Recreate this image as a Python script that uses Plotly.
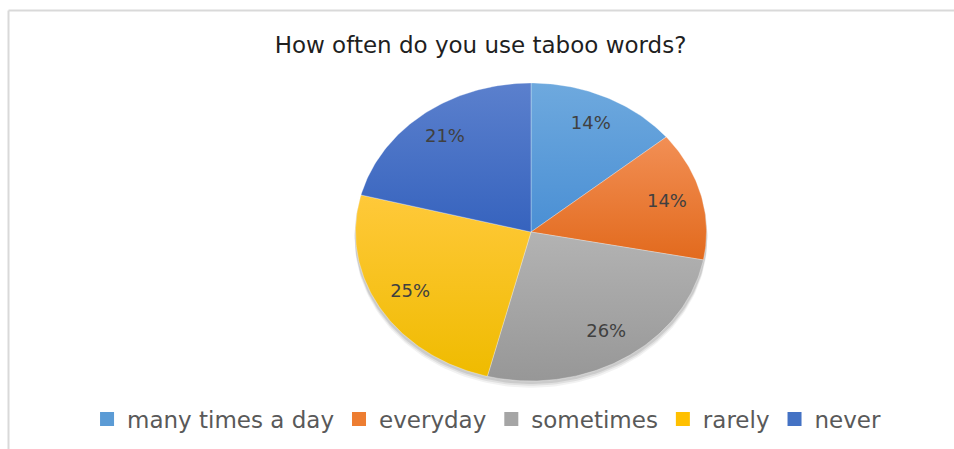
import numpy as np
import plotly.graph_objects as go

# Survey answers to "How often do you use taboo words?"
categories = ["many times a day", "everyday", "sometimes", "rarely", "never"]
shares = [14, 14, 26, 25, 21]

# Two-stop vertical gradients (bottom, top) per slice, Office-style palette
grad_bottom = ["#4a8fd4", "#e26a1d", "#979797", "#efbb00", "#3663be"]
grad_top = ["#6ea9de", "#f28f55", "#b3b3b3", "#ffc93a", "#5b80cd"]
legend_swatch = ["#5b9bd5", "#ed7d31", "#a5a5a5", "#ffc000", "#4472c4"]

W, H = 954, 449
CX, CY = 531.0, 232.0     # pie centre in pixels
RX, RY = 175.5, 149.0     # horizontal / vertical radii in pixels

# Axis ranges so that a unit circle in data space lands on the ellipse
x_range = [-CX / RX, (W - CX) / RX]
y_range = [-(H - CY) / RY, CY / RY]

fig = go.Figure()

# soft drop shadow under the pie
t = np.linspace(0, 2 * np.pi, 240)
for off, alpha in [(0.045, 0.05), (0.032, 0.07), (0.02, 0.09)]:
    fig.add_trace(go.Scatter(
        x=np.sin(t) * 1.005, y=np.cos(t) * 1.0 - off,
        mode="lines", fill="toself", line=dict(width=0),
        fillcolor=f"rgba(0,0,0,{alpha})", hoverinfo="skip", showlegend=False,
    ))

total = float(sum(shares))
start = 0.0
label_x, label_y, label_txt = [], [], []
for name, v, c0, c1 in zip(categories, shares, grad_bottom, grad_top):
    sweep = 2 * np.pi * v / total
    a = np.linspace(start, start + sweep, max(int(v * 4), 12))
    xs = np.concatenate([[0.0], np.sin(a), [0.0]])
    ys = np.concatenate([[0.0], np.cos(a), [0.0]])
    fig.add_trace(go.Scatter(
        x=xs, y=ys, mode="lines", fill="toself",
        line=dict(width=0.6, color="rgba(255,255,255,0.5)"),
        fillgradient=dict(type="vertical", colorscale=[[0, c0], [1, c1]]),
        name=name, hoverinfo="name", showlegend=False,
    ))
    mid = start + sweep / 2
    label_x.append(0.8 * np.sin(mid))
    label_y.append(0.8 * np.cos(mid))
    label_txt.append(f"{round(100 * v / total)}%")
    start += sweep

# percentage labels
fig.add_trace(go.Scatter(
    x=label_x, y=label_y, mode="text", text=label_txt,
    textfont=dict(family="DejaVu Sans", size=18, color="#404040"),
    hoverinfo="skip", showlegend=False,
))

# legend entries with square swatches
for name, col in zip(categories, legend_swatch):
    fig.add_trace(go.Scatter(
        x=[None], y=[None], mode="markers", name=name,
        marker=dict(symbol="square", size=14, color=col),
    ))

fig.update_layout(
    width=W, height=H,
    margin=dict(l=0, r=0, t=0, b=0),
    paper_bgcolor="white", plot_bgcolor="white",
    title=dict(
        text="How often do you use taboo words?",
        x=0.5037, xanchor="center", y=1 - 45 / H, yanchor="middle",
        font=dict(family="DejaVu Sans", size=23, color="#1f1f1f"),
    ),
    xaxis=dict(range=x_range, visible=False, fixedrange=True),
    yaxis=dict(range=y_range, visible=False, fixedrange=True),
    legend=dict(
        orientation="h", x=0.51, xanchor="center", y=1 - 419 / H, yanchor="middle",
        font=dict(family="DejaVu Sans", size=23, color="#595959"),
        itemclick=False, itemdoubleclick=False, tracegroupgap=0,
    ),
    showlegend=True,
    shapes=[
        dict(type="line", xref="paper", yref="paper",
             x0=8.5 / W, x1=1.05, y0=1 - 10.5 / H, y1=1 - 10.5 / H,
             line=dict(color="#d9d9d9", width=2), layer="below"),
        dict(type="line", xref="paper", yref="paper",
             x0=8.5 / W, x1=8.5 / W, y0=-0.05, y1=1 - 10.5 / H,
             line=dict(color="#d9d9d9", width=2), layer="below"),
    ],
)

fig.write_html("out.html")
